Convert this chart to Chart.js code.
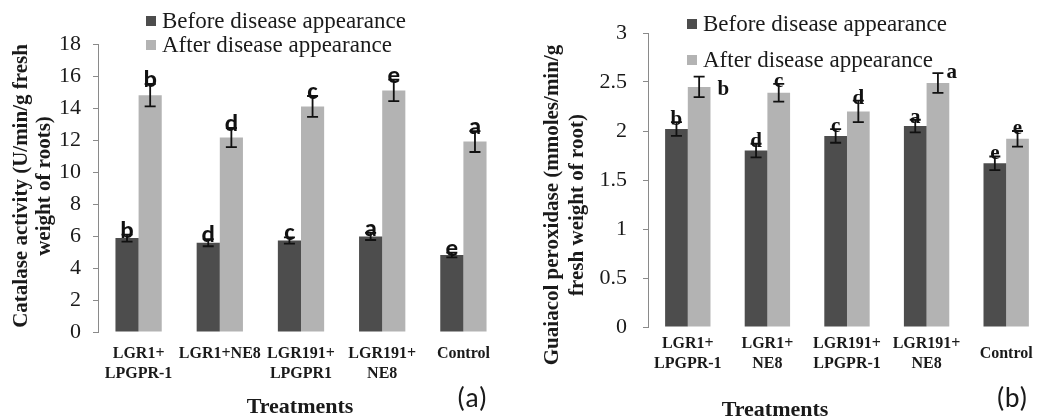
<!DOCTYPE html>
<html>
<head>
<meta charset="utf-8">
<script src="https://cdn.jsdelivr.net/npm/chart.js@4.4.1/dist/chart.umd.min.js"></script>
<style>
  html, body { margin: 0; padding: 0; background: #fff; overflow: hidden; width: 1039px; height: 420px; }
  .panel { position: absolute; top: 0; height: 420px; }
  #wrap-a { left: 0; width: 520px; }
  #wrap-b { left: 520px; width: 530px; }
</style>
</head>
<body>
<div class="panel" id="wrap-a"><canvas id="chart-a"></canvas></div>
<div class="panel" id="wrap-b"><canvas id="chart-b"></canvas></div>
<script>
// ---- data, panel (a): catalase ----
const treatmentsA = [['LGR1+', 'LPGPR-1'], 'LGR1+NE8', ['LGR191+', 'LPGPR1'], ['LGR191+', 'NE8'], 'Control'];
const catalaseBefore = [5.87, 5.58, 5.72, 5.97, 4.81];
const catalaseBeforeErr = [0.22, 0.22, 0.2, 0.22, 0.15];
const catalaseAfter = [14.8, 12.15, 14.1, 15.1, 11.9];
const catalaseAfterErr = [0.7, 0.6, 0.65, 0.67, 0.65];
const catalaseBeforeLetters = ['b', 'd', 'c', 'a', 'e'];
const catalaseAfterLetters = ['b', 'd', 'c', 'e', 'a'];
const catalaseTicks = [0, 2, 4, 6, 8, 10, 12, 14, 16, 18];

// ---- data, panel (b): guaiacol peroxidase ----
const treatmentsB = [['LGR1+', 'LPGPR-1'], ['LGR1+', 'NE8'], ['LGR191+', 'LPGPR-1'], ['LGR191+', 'NE8'], 'Control'];
const gpxBefore = [2.02, 1.8, 1.95, 2.05, 1.67];
const gpxBeforeErr = [0.07, 0.07, 0.07, 0.065, 0.07];
const gpxAfter = [2.45, 2.39, 2.2, 2.49, 1.92];
const gpxAfterErr = [0.105, 0.09, 0.11, 0.1, 0.08];
const gpxBeforeLetters = ['b', 'd', 'c', 'a', 'e'];
const gpxAfterLetters = ['b', 'c', 'd', 'a', 'e'];
const gpxTicks = [0, 0.5, 1, 1.5, 2, 2.5, 3];

const seriesNames = ['Before disease appearance', 'After disease appearance'];

const SERIF = 'Liberation Serif, Tinos, serif';
const CALIBRI = 'Carlito, Lato, sans-serif';
const DARK = '#4d4d4d';
const LIGHT = '#b3b3b3';
const INK = '#1a1a1a';

// error bars, significance letters, legend and titles
const annotPlugin = {
  id: 'annot',
  afterDatasetsDraw(chart, args, o) {
    const ctx = chart.ctx;
    const y = chart.scales.y;
    ctx.save();
    chart.data.datasets.forEach((ds, di) => {
      chart.getDatasetMeta(di).data.forEach((bar, i) => {
        const v = ds.data[i], e = ds.errors[i];
        const top = y.getPixelForValue(v + e);
        const bot = y.getPixelForValue(v - e);
        ctx.strokeStyle = '#111';
        ctx.lineWidth = 1.8;
        ctx.beginPath();
        ctx.moveTo(bar.x, top); ctx.lineTo(bar.x, bot);
        ctx.moveTo(bar.x - o.cap, top); ctx.lineTo(bar.x + o.cap, top);
        ctx.moveTo(bar.x - o.cap, bot); ctx.lineTo(bar.x + o.cap, bot);
        ctx.stroke();

        const side = ds.letterSide ? ds.letterSide[i] : 'top';
        ctx.font = o.letterFont;
        ctx.fillStyle = '#111';
        ctx.textBaseline = 'alphabetic';
        if (side === 'beside') {
          ctx.textAlign = 'left';
          ctx.fillText(ds.letters[i], bar.x + bar.width / 2 + 7, y.getPixelForValue(v) + 8);
        } else if (side === 'corner') {
          ctx.textAlign = 'left';
          ctx.fillText(ds.letters[i], bar.x + o.cap + 3, top + 5);
        } else {
          ctx.textAlign = 'center';
          ctx.fillText(ds.letters[i], bar.x, top + 3);
        }
      });
    });
    ctx.restore();
  },
  afterDraw(chart, args, o) {
    const ctx = chart.ctx;
    ctx.save();
    // legend
    ctx.font = '23px ' + SERIF;
    ctx.textAlign = 'left';
    ctx.textBaseline = 'middle';
    chart.data.datasets.forEach((ds, i) => {
      const cy = o.legend.y + i * o.legend.gap;
      ctx.fillStyle = ds.backgroundColor;
      ctx.fillRect(o.legend.x, cy - 5, 10, 10);
      ctx.fillStyle = INK;
      ctx.fillText(ds.label, o.legend.x + 16, cy + 1);
    });
    // y title
    ctx.font = 'bold 21px ' + SERIF;
    ctx.textAlign = 'center';
    ctx.save();
    ctx.translate(o.yTitle.x, o.yTitle.y);
    ctx.rotate(-Math.PI / 2);
    o.yTitle.lines.forEach((t, i) => ctx.fillText(t, 0, i * o.yTitle.gap));
    ctx.restore();
    // x title
    ctx.font = 'bold 22px ' + SERIF;
    ctx.fillText('Treatments', o.xTitle.x, o.xTitle.y);
    // panel tag
    ctx.font = '28px ' + CALIBRI;
    ctx.fillText(o.tag.text, o.tag.x, o.tag.y);
    ctx.restore();
  }
};

function makeChart(id, cfg) {
  return new Chart(document.getElementById(id), {
    type: 'bar',
    data: {
      labels: cfg.labels,
      datasets: [
        { label: seriesNames[0], data: cfg.before, errors: cfg.beforeErr, letters: cfg.beforeLetters,
          backgroundColor: DARK, borderWidth: 0 },
        { label: seriesNames[1], data: cfg.after, errors: cfg.afterErr, letters: cfg.afterLetters,
          letterSide: cfg.afterSide, backgroundColor: LIGHT, borderWidth: 0 }
      ]
    },
    options: {
      responsive: true,
      maintainAspectRatio: false,
      animation: false,
      datasets: { bar: { barPercentage: 1, categoryPercentage: 0.57 } },
      layout: { padding: { top: cfg.top, right: cfg.right, left: 0, bottom: 0 } },
      scales: {
        x: {
          grid: { display: false, drawTicks: false },
          border: { display: false },
          ticks: {
            color: INK, padding: cfg.xPad, crossAlign: cfg.crossAlign, maxRotation: 0, autoSkip: false,
            font: { family: SERIF, size: 16, weight: 'bold', lineHeight: 1.25 }
          },
          afterFit: s => { s.height = cfg.xHeight; }
        },
        y: {
          min: 0,
          max: cfg.ticks[cfg.ticks.length - 1],
          afterBuildTicks: s => { s.ticks = cfg.ticks.map(v => ({ value: v })); },
          grid: { drawOnChartArea: false, drawTicks: true, tickLength: 5, color: '#8a8a8a' },
          border: { display: true, color: '#8a8a8a', width: 1 },
          ticks: {
            color: INK, padding: cfg.yPad,
            font: { family: SERIF, size: 22 },
            callback: v => String(v)
          },
          afterFit: s => { s.width = cfg.yWidth; }
        }
      },
      plugins: {
        legend: { display: false },
        tooltip: { enabled: false },
        annot: cfg.annot
      }
    },
    plugins: [annotPlugin]
  });
}

makeChart('chart-a', {
  labels: treatmentsA,
  before: catalaseBefore, beforeErr: catalaseBeforeErr, beforeLetters: catalaseBeforeLetters,
  after: catalaseAfter, afterErr: catalaseAfterErr, afterLetters: catalaseAfterLetters,
  afterSide: ['top', 'top', 'top', 'top', 'top'],
  ticks: catalaseTicks,
  top: 44, right: 16, yWidth: 98, xHeight: 88, xPad: 12, yPad: 12, crossAlign: 'near',
  annot: {
    cap: 5.5,
    letterFont: 'bold 25px ' + CALIBRI,
    legend: { x: 146, y: 21, gap: 24 },
    yTitle: { x: 22, y: 186, gap: 23, lines: ['Catalase activity (U/min/g fresh', 'weight of roots)'] },
    xTitle: { x: 300, y: 407 },
    tag: { text: '(a)', x: 472, y: 400 }
  }
});

makeChart('chart-b', {
  labels: treatmentsB,
  before: gpxBefore, beforeErr: gpxBeforeErr, beforeLetters: gpxBeforeLetters,
  after: gpxAfter, afterErr: gpxAfterErr, afterLetters: gpxAfterLetters,
  afterSide: ['beside', 'top', 'top', 'corner', 'top'],
  ticks: gpxTicks,
  top: 33, right: 3, yWidth: 128, xHeight: 93, xPad: 17, yPad: 16, crossAlign: 'center',
  annot: {
    cap: 5.5,
    letterFont: 'bold 21px ' + SERIF,
    legend: { x: 167, y: 24, gap: 36 },
    yTitle: { x: 33, y: 205, gap: 25, lines: ['Guaiacol peroxidase (mmoles/min/g', 'fresh weight of root)'] },
    xTitle: { x: 255, y: 410 },
    tag: { text: '(b)', x: 492, y: 400 }
  }
});
</script>
</body>
</html>
